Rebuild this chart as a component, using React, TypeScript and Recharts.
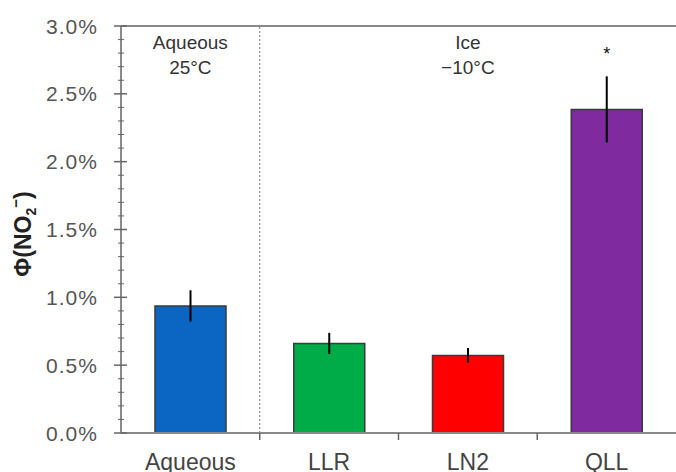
import React from 'react';
import { BarChart, Bar, XAxis, YAxis, ErrorBar, Cell, ReferenceLine, LabelList } from 'recharts';

const categories = ['Aqueous', 'LLR', 'LN2', 'QLL'];
const categoryCenters = [0.5, 1.5, 2.5, 3.5];
const phiValues = [0.937, 0.66, 0.572, 2.385];
const phiErrors = [0.115, 0.078, 0.055, 0.244];
const barColors = ['#0A66C2', '#00AC47', '#FF0000', '#7F2A9F'];
const significance = ['', '', '', '*'];
const yTicks = [0, 0.1, 0.2, 0.3, 0.4, 0.5, 0.6, 0.7, 0.8, 0.9, 1.0, 1.1, 1.2, 1.3, 1.4, 1.5, 1.6, 1.7, 1.8, 1.9, 2.0, 2.1, 2.2, 2.3, 2.4, 2.5, 2.6, 2.7, 2.8, 2.9, 3.0];
const xTickPositions = [0.5, 1, 1.5, 2, 2.5, 3, 3.5];
const groupLabels = [
  { at: 0.5, lines: ['Aqueous', '25°C'] },
  { at: 2.5, lines: ['Ice', '\u221210°C'] },
];

const data = categories.map((c, i) => ({ name: c, pos: categoryCenters[i], v: phiValues[i], e: phiErrors[i], sig: significance[i] }));

const FONT = '"Liberation Sans", Arial, sans-serif';
const AXIS = '#8a8a8a';

const YTick = (props: any) => {
  const { x, y, payload } = props;
  const v = payload.value;
  const major = Math.abs(v * 2 - Math.round(v * 2)) < 1e-6;
  return (
    <g>
      <line x1={x - (major ? 7 : 3)} x2={x + (major ? 6 : 3)} y1={y} y2={y} stroke="#666" strokeWidth={major ? 1.5 : 1} />
      {major && (
        <text x={x - 23} y={y} dy="0.36em" textAnchor="end" fontSize={21} letterSpacing={1} fill="#555" fontFamily={FONT}>
          {v.toFixed(1)}%
        </text>
      )}
    </g>
  );
};

const XTick = (props: any) => {
  const { x, y, payload } = props;
  const v = payload.value;
  if (Number.isInteger(v)) {
    return <line x1={x} x2={x} y1={y} y2={y + 7} stroke="#666" strokeWidth={1.5} />;
  }
  const idx = categoryCenters.indexOf(v);
  return (
    <text x={x} y={y + 37} textAnchor="middle" fontSize={23} fill="#444" fontFamily={FONT}>
      {categories[idx]}
    </text>
  );
};

const YLabel = () => (
  <text
    x={0}
    y={0}
    transform="translate(31, 234) rotate(-90)"
    textAnchor="middle"
    fontSize={23}
    fontWeight="bold"
    fill="#222"
    fontFamily={FONT}
  >
    Φ(NO<tspan dy={5} fontSize={14}>2</tspan>
    <tspan dy={-15} fontSize={15}>−</tspan>
    <tspan dy={10}>)</tspan>
  </text>
);

const makeGroupLabel = (lines: string[]) => (props: any) => {
  const vb = props.viewBox || {};
  const cx = vb.x;
  const top = vb.y;
  return (
    <g>
      {lines.map((t, i) => (
        <text key={i} x={cx} y={top + 23 + i * 25} textAnchor="middle" fontSize={19} fill="#333" fontFamily={FONT}>
          {t}
        </text>
      ))}
    </g>
  );
};

const SigLabel = (props: any) => {
  const { x, y, width, value } = props;
  if (!value) return null;
  return (
    <text x={x + width / 2} y={y - 49} textAnchor="middle" fontSize={18} fill="#111" fontFamily={FONT}>
      {value}
    </text>
  );
};

export default function App() {
  return (
    <div style={{ position: 'absolute', left: 0, top: 0, width: 676, height: 472, background: '#fff' }}>
      <BarChart
        width={676}
        height={472}
        data={data}
        margin={{ top: 26, right: 0, bottom: 0, left: 0 }}
        barSize={71}
      >
        <XAxis dataKey="name" hide height={0} />
        <XAxis
          xAxisId="num"
          dataKey="pos"
          type="number"
          domain={[0, 4]}
          ticks={xTickPositions}
          interval={0}
          height={39}
          tickSize={0}
          tickMargin={0}
          tickLine={false}
          axisLine={{ stroke: AXIS, strokeWidth: 2 }}
          tick={<XTick />}
        />
        <YAxis
          domain={[0, 3]}
          ticks={yTicks}
          interval={0}
          width={121}
          tickSize={0}
          tickMargin={0}
          tickLine={false}
          axisLine={{ stroke: AXIS, strokeWidth: 2 }}
          tick={<YTick />}
          label={<YLabel />}
        />
        <ReferenceLine y={3} stroke={AXIS} strokeWidth={2} />
        <ReferenceLine x={1} xAxisId="num" stroke="#777" strokeDasharray="2 2" strokeWidth={1} />
        {groupLabels.map((g, i) => (
          <ReferenceLine key={i} x={g.at} xAxisId="num" stroke="none" label={makeGroupLabel(g.lines)} />
        ))}
        <Bar dataKey="v" isAnimationActive={false} stroke="#3a3a3a" strokeWidth={1.5}>
          {data.map((d, i) => (
            <Cell key={i} fill={barColors[i]} />
          ))}
          <ErrorBar dataKey="e" width={0} stroke="#000" strokeWidth={2} direction="y" />
          <LabelList dataKey="sig" content={<SigLabel />} />
        </Bar>
      </BarChart>
    </div>
  );
}
